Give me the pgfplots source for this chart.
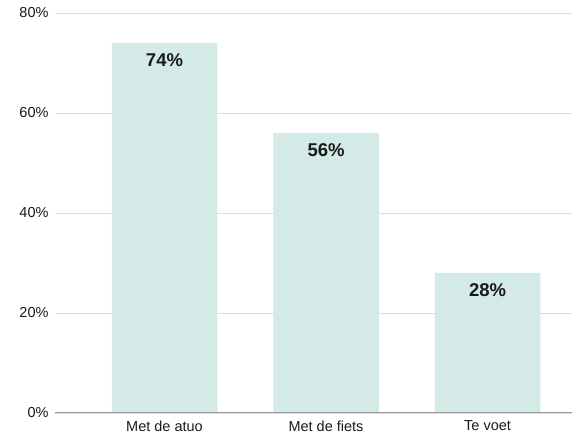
\documentclass[border=0pt]{standalone}
\usepackage{pgfplots}
\pgfplotsset{compat=1.18}
\usepackage{fontspec}
\setmainfont{Liberation Sans}
\definecolor{barc}{HTML}{D3EAE7}
\definecolor{gridc}{HTML}{DDDDDD}
\definecolor{axc}{HTML}{9A9A9A}
\definecolor{txt}{HTML}{1A1A1A}
\begin{document}
\begin{tikzpicture}
\begin{axis}[
  scale only axis,
  width=517pt, height=400pt,
  xmin=-0.678, xmax=2.523,
  ymin=0, ymax=80,
  ytick={0,20,40,60,80},
  yticklabel={\pgfmathprintnumber{\tick}\%},
  /pgf/number format/assume math mode=true,
  xtick=data,
  xticklabels={Met de atuo, Met de fiets, Te voet},
  axis line style={draw=none},
  major tick length=0pt,
  ymajorgrids,
  grid style={gridc, line width=0.8pt},
  ticklabel style={font=\fontsize{14.5}{17}\selectfont, text=txt},
  yticklabel style={xshift=-3pt},
  xticklabel style={yshift=-4pt},
  clip=false,
]
\addplot[ybar, bar width=105.5pt, fill=barc, draw=none,
  nodes near coords={\pgfmathprintnumber{\pgfplotspointmeta}\%},
  every node near coord/.append style={anchor=center, yshift=-17pt,
    font=\fontsize{18.5}{21}\selectfont\bfseries, text=txt},
] coordinates {(0,74) (1,56) (2,28)};
\draw[axc, line width=1pt] (rel axis cs:0,0) -- (rel axis cs:1,0);
\coordinate (bl) at (rel axis cs:0,0);
\coordinate (tr) at (rel axis cs:1,1);
\end{axis}
\pgfresetboundingbox
\path ([shift={(-55pt,-22pt)}]bl) rectangle ([shift={(0pt,13pt)}]tr);
\end{tikzpicture}
\end{document}
